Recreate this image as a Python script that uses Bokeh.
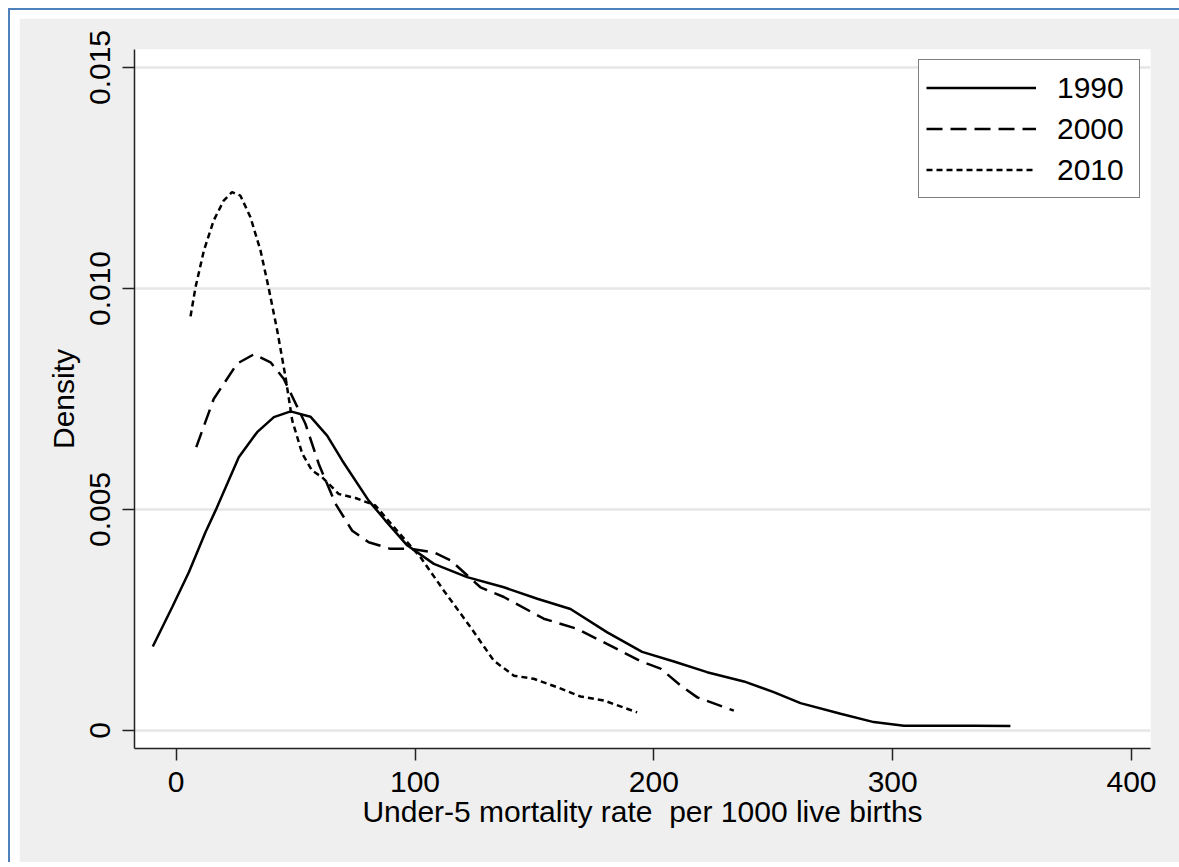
from bokeh.plotting import figure
from bokeh.models import FixedTicker, Range1d, Legend, LegendItem, CustomJSTickFormatter
from bokeh.layouts import column
from bokeh.embed import file_html
from bokeh.resources import INLINE

# ---- data ----
series_names = ["1990", "2000", "2010"]

x_1990 = [-9.8, -1.7, 5.3, 12.3, 16.5, 26.2, 33.9, 40.9, 47.9, 56.2, 63.2, 69.5,
          80.6, 87.6, 96.7, 107.9, 121.8, 137.2, 151.2, 165.1, 180.5, 195.1,
          208.4, 222.3, 237.7, 250.2, 261.4, 278.2, 292.1, 304.7, 334.0, 349.3]
y_1990 = [0.0019, 0.00279, 0.00358, 0.00449, 0.00498, 0.00618, 0.00675, 0.00709,
          0.00722, 0.0071, 0.00667, 0.00611, 0.0052, 0.00475, 0.00419, 0.00377,
          0.00347, 0.00324, 0.00298, 0.00275, 0.00222, 0.00178, 0.00156, 0.00132,
          0.00111, 0.00087, 0.00062, 0.00038, 0.00019, 0.00011, 0.00011, 0.0001]

x_2000 = [8.4, 15.7, 25.5, 32.5, 39.5, 45.0, 54.1, 59.7, 66.7, 73.7, 80.6, 89.7,
          98.1, 107.9, 114.9, 127.4, 137.2, 153.9, 167.9, 181.8, 194.0, 202.8,
          211.2, 218.2, 233.5]
y_2000 = [0.00641, 0.0075, 0.0083, 0.00851, 0.00833, 0.00796, 0.00694, 0.00603,
          0.00513, 0.00452, 0.00426, 0.00411, 0.00411, 0.00403, 0.00385, 0.00324,
          0.00302, 0.00253, 0.0023, 0.00192, 0.00158, 0.0014, 0.00102, 0.00075,
          0.00045]

x_2010 = [6.0, 8.1, 11.6, 15.7, 19.9, 23.4, 26.9, 31.1, 35.3, 38.8, 42.3, 45.8,
          48.6, 52.8, 56.9, 61.1, 68.1, 75.1, 83.4, 92.5, 102.3, 112.0, 123.2,
          133.0, 141.4, 149.7, 159.5, 169.3, 179.0, 193.0]
y_2010 = [0.00937, 0.01003, 0.01086, 0.01154, 0.01199, 0.01218, 0.0121, 0.01161,
          0.01086, 0.00999, 0.00905, 0.00799, 0.00701, 0.00626, 0.00588, 0.00573,
          0.00535, 0.00526, 0.00509, 0.00452, 0.00392, 0.00317, 0.00234, 0.00158,
          0.00124, 0.00117, 0.00098, 0.00077, 0.00068, 0.00041]

x_ticks = [0, 100, 200, 300, 400]
y_ticks = [0, 0.005, 0.010, 0.015]

FONT = "Liberation Sans"

p = figure(frame_width=1016, frame_height=699,
           min_border_left=115, min_border_right=29,
           min_border_top=31, min_border_bottom=114,
           x_range=Range1d(-17.46, 407.96), y_range=Range1d(-0.000407, 0.015407),
           output_backend="svg", toolbar_location=None,
           background_fill_color="white", border_fill_color="#EFEFEF")
p.outline_line_color = None

# axes
for ax in (p.xaxis[0], p.yaxis[0]):
    ax.axis_line_color = "#222222"
    ax.axis_line_width = 1.5
    ax.major_tick_line_color = "#222222"
    ax.major_tick_line_width = 1.5
    ax.major_tick_out = 12
    ax.major_tick_in = 0
    ax.minor_tick_line_color = None
    ax.major_label_text_font = FONT
    ax.major_label_text_font_size = "30px"
    ax.major_label_text_color = "black"
    ax.axis_label_text_font = FONT
    ax.axis_label_text_font_size = "30px"
    ax.axis_label_text_font_style = "normal"
    ax.axis_label_text_color = "black"

p.xaxis[0].ticker = FixedTicker(ticks=x_ticks)
p.xaxis[0].axis_label = "Under-5 mortality rate\u00a0 per 1000 live births"
p.xaxis[0].major_label_standoff = 11
p.xaxis[0].axis_label_standoff = 0

p.yaxis[0].ticker = FixedTicker(ticks=y_ticks)
p.yaxis[0].formatter = CustomJSTickFormatter(code="return tick == 0 ? '0' : tick.toFixed(3);")
p.yaxis[0].major_label_orientation = "vertical"
p.yaxis[0].major_label_standoff = 12
p.yaxis[0].axis_label = "Density"
p.yaxis[0].axis_label_standoff = 8

p.xgrid.visible = False
p.ygrid[0].ticker = FixedTicker(ticks=y_ticks)
p.ygrid.grid_line_color = "#E6E6E6"
p.ygrid.grid_line_width = 2.5

r1 = p.line(x_1990, y_1990, line_color="black", line_width=2.5)
r2 = p.line(x_2000, y_2000, line_color="black", line_width=2.5, line_dash="16 8")
r3 = p.line(x_2010, y_2010, line_color="black", line_width=2.5, line_dash="6 4")

legend = Legend(items=[LegendItem(label=series_names[0], renderers=[r1]),
                       LegendItem(label=series_names[1], renderers=[r2]),
                       LegendItem(label=series_names[2], renderers=[r3])],
                location="top_right", margin=10, padding=7, spacing=0,
                glyph_width=110, glyph_height=41, label_height=41,
                label_width=75, label_standoff=21,
                label_text_font=FONT, label_text_font_size="30px",
                label_text_color="black",
                border_line_color="black", border_line_width=1.2,
                background_fill_color="white", background_fill_alpha=1.0)
p.add_layout(legend, "center")

layout = column(p, margin=(8, 0, 0, 8),
                styles={"border-top": "2px solid #4F81BD",
                        "border-left": "2px solid #4F81BD",
                        "padding-top": "8px", "padding-left": "9px",
                        "background-color": "white"})

open("out.html", "w").write(file_html(layout, INLINE))
